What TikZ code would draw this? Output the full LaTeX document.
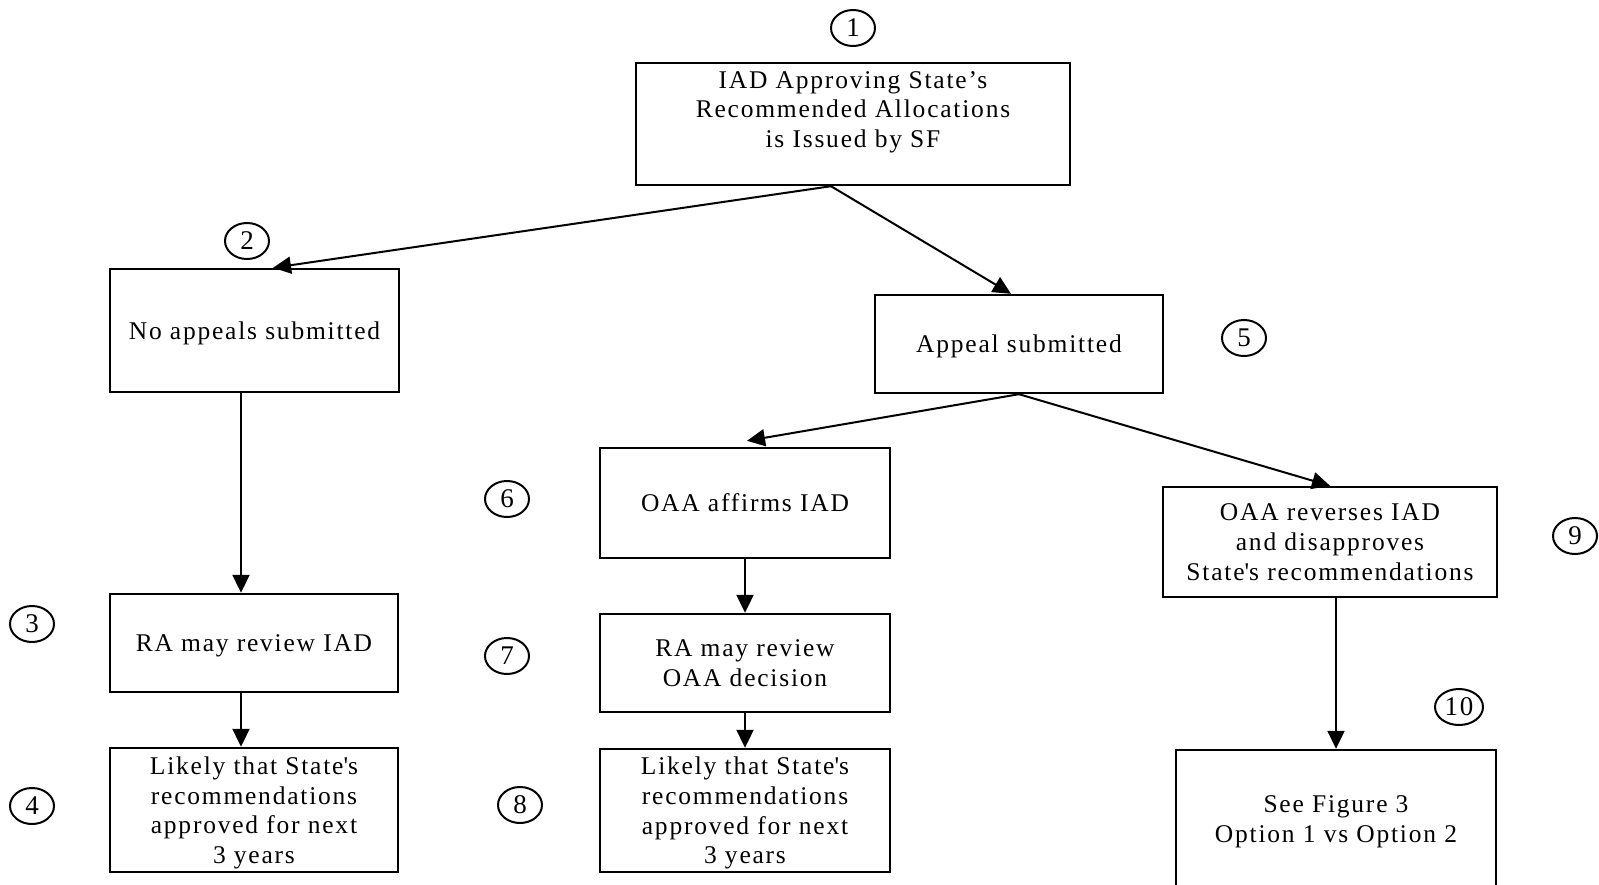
\documentclass[tikz,border=0pt]{standalone}
\usepackage{fontspec}
\setmainfont{Liberation Serif}[LetterSpace=7]
\usetikzlibrary{arrows.meta,shapes.geometric,calc}

\tikzset{
  box/.style={draw, line width=1.2pt, align=center, inner sep=0pt, text depth=0pt},
  num/.style={draw, ellipse, line width=1pt, inner sep=0pt, minimum width=22pt, minimum height=18pt, font=\fontsize{13.5}{15}\selectfont},
  arr/.style={line width=1pt, -{Triangle[length=9pt,width=8.5pt]}}
}

\begin{document}
\begin{tikzpicture}[x=0.5pt, y=-0.5pt, font=\fontsize{12.75}{14.8}\selectfont]
    \clip (0,0) rectangle (1599,884);

    % boxes
    \node[box, minimum width=217pt, minimum height=61pt] (iad) at (853,124) {IAD Approving State's\\Recommended Allocations\\is Issued by SF\\ \strut};
    \node[box, minimum width=144.5pt, minimum height=61.5pt] (noapp) at (254.5,330.5) {No appeals submitted};
    \node[box, minimum width=144pt, minimum height=49pt] (appeal) at (1019,344) {Appeal submitted};
    \node[box, minimum width=144pt, minimum height=49pt] (raiad) at (254,643) {RA may review IAD};
    \node[box, minimum width=144pt, minimum height=62pt] (likelyA) at (254,810) {Likely that State\textquotesingle s\\recommendations\\approved for next\\3 years};
    \node[box, minimum width=145pt, minimum height=55pt] (affirm) at (745,503) {OAA affirms IAD};
    \node[box, minimum width=145pt, minimum height=49pt] (raoaa) at (745,663) {RA may review\\OAA decision};
    \node[box, minimum width=145pt, minimum height=61.5pt] (likelyB) at (745,810.5) {Likely that State\textquotesingle s\\recommendations\\approved for next\\3 years};
    \node[box, minimum width=167pt, minimum height=55pt] (reverse) at (1330,542) {OAA reverses IAD\\and disapproves\\State\textquotesingle s recommendations};
    \node[box, minimum width=160pt, minimum height=69pt] (seefig) at (1336,819) {See Figure 3\\Option 1 vs Option 2};

    % step numbers
    \node[num] (n1) at (853,28) {1};
    \node[num] (n2) at (247,241) {2};
    \node[num] (n3) at (32,624) {3};
    \node[num] (n4) at (32,806) {4};
    \node[num] (n5) at (1244,338) {5};
    \node[num] (n6) at (507,499) {6};
    \node[num] (n7) at (507,656) {7};
    \node[num] (n8) at (520,805) {8};
    \node[num] (n9) at (1575,536) {9};
    \node[num, minimum width=24pt] (n10) at (1459,707) {10};

    % arrows
    \draw[arr] ($(iad.south)+(-22,0)$) -- ($(noapp.north)+(18.5,0)$);
    \draw[arr] ($(iad.south)+(-22,0)$) -- ($(appeal.north)+(-8,0)$);
    \draw[arr] (appeal.south) -- ($(affirm.north)+(2,-6)$);
    \draw[arr] (appeal.south) -- (reverse.north);
    \draw[arr] ($(noapp.south)+(-13.5,0)$) -- ($(raiad.north)+(-13,0)$);
    \draw[arr] ($(raiad.south)+(-13,0)$) -- ($(likelyA.north)+(-13,0)$);
    \draw[arr] (affirm.south) -- (raoaa.north);
    \draw[arr] (raoaa.south) -- (likelyB.north);
    \draw[arr] ($(reverse.south)+(6,0)$) -- (seefig.north);
\end{tikzpicture}
\end{document}
